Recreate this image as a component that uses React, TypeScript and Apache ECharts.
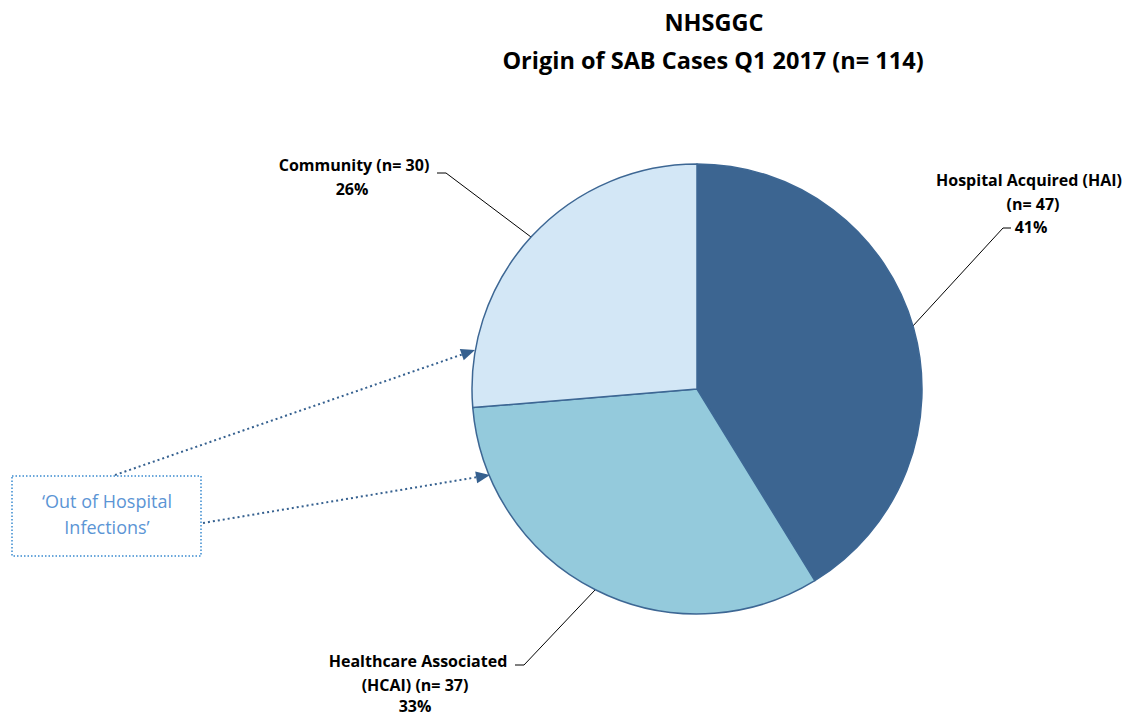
import React, { useEffect, useRef } from "react";
import * as echarts from "echarts";

const categories = ["Hospital Acquired (HAI)", "Healthcare Associated (HCAI)", "Community"];
const counts = [47, 37, 30];
const percents = ["41%", "33%", "26%"];
const colors = ["#3C6591", "#94CADC", "#D3E7F6"];
const titleLines = ["NHSGGC", "Origin of SAB Cases Q1 2017 (n= 114)"];
const noteText = "\u2018Out of Hospital\nInfections\u2019";

const FONT = "'Open Sans', Lato, sans-serif";

export default function App() {
  const ref = useRef<HTMLDivElement>(null);
  useEffect(() => {
    if (!ref.current) return;
    const chart = echarts.init(ref.current, null, { renderer: "svg" });
    const boldText = (x: number, y: number, text: string, size = 16) => ({
      type: "text",
      x,
      y,
      style: {
        text,
        fill: "#000",
        font: `bold ${size}px ${FONT}`,
        textAlign: "center",
        textVerticalAlign: "middle",
      },
    });
    const leader = (pts: number[][]) => ({
      type: "polyline",
      shape: { points: pts },
      style: { stroke: "#000", lineWidth: 1, fill: null },
    });
    const arrow = (x1: number, y1: number, x2: number, y2: number) => {
      const ang = Math.atan2(y2 - y1, x2 - x1);
      const L = 14, W = 6;
      const bx = x2 - L * Math.cos(ang), by = y2 - L * Math.sin(ang);
      const px = -Math.sin(ang) * W, py = Math.cos(ang) * W;
      return [
        {
          type: "line",
          shape: { x1, y1, x2: bx, y2: by },
          style: { stroke: "#35608F", lineWidth: 2, lineDash: [2, 3] },
        },
        {
          type: "polygon",
          shape: { points: [[x2, y2], [bx + px, by + py], [bx - px, by - py]] },
          style: { fill: "#35608F" },
        },
      ];
    };
    chart.setOption({
      animation: false,
      backgroundColor: "#fff",
      series: [
        {
          type: "pie",
          center: [697, 389],
          radius: 225,
          startAngle: 90,
          clockwise: true,
          label: { show: false },
          labelLine: { show: false },
          emphasis: { disabled: true },
          itemStyle: { borderColor: "#3D6794", borderWidth: 1.5 },
          data: categories.map((c, i) => ({
            name: c,
            value: counts[i],
            itemStyle: { color: colors[i] },
          })),
        },
      ],
      graphic: [
        boldText(714, 22, titleLines[0], 23.5),
        boldText(713, 60, titleLines[1], 23.5),
        boldText(354, 165, `Community (n= ${counts[2]})`),
        boldText(352, 189, percents[2]),
        boldText(1029, 180, "Hospital Acquired (HAI)"),
        boldText(1033, 204, `(n= ${counts[0]})`),
        boldText(1031, 227, percents[0]),
        boldText(418, 661, "Healthcare Associated"),
        boldText(415, 685, `(HCAI) (n= ${counts[1]})`),
        boldText(415, 706, percents[1]),
        leader([[437, 173], [446, 173], [531, 237]]),
        leader([[1011, 228], [1003, 228], [912, 327]]),
        leader([[515, 665], [524, 665], [595, 590]]),
        {
          type: "rect",
          shape: { x: 12, y: 476, width: 189, height: 80 },
          style: { fill: null, stroke: "#3A8BD0", lineWidth: 1.5, lineDash: [1.5, 2] },
        },
        {
          type: "text",
          x: 107,
          y: 514,
          style: {
            text: noteText,
            fill: "#5B95D5",
            font: `18px ${FONT}`,
            textAlign: "center",
            textVerticalAlign: "middle",
            lineHeight: 26,
          },
        },
        ...arrow(115, 475, 475, 350),
        ...arrow(203, 523, 490, 475),
      ],
    });
    return () => chart.dispose();
  }, []);
  return (
    <div
      ref={ref}
      style={{ position: "absolute", left: 0, top: 0, width: 1130, height: 716 }}
    />
  );
}
